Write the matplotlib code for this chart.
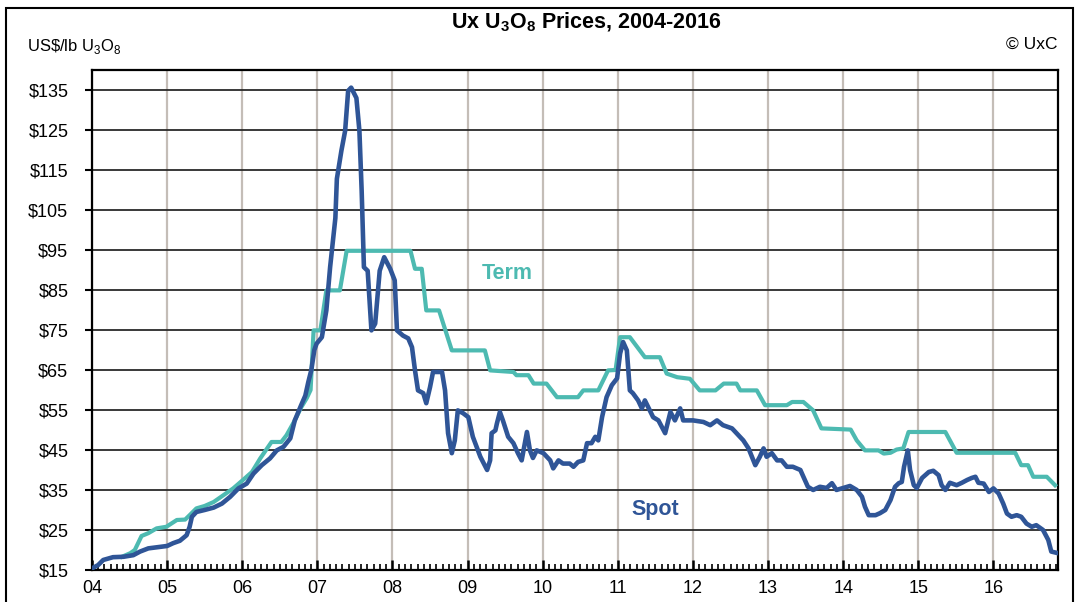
import matplotlib
matplotlib.use('Agg')
import matplotlib.pyplot as plt
from matplotlib.ticker import MultipleLocator, FixedLocator
from matplotlib.patches import Rectangle
import numpy as np

plt.rcParams['font.family'] = ['Liberation Sans', 'DejaVu Sans']
plt.rcParams['mathtext.fontset'] = 'custom'
plt.rcParams['mathtext.rm'] = 'Liberation Sans'
plt.rcParams['mathtext.bf'] = 'Liberation Sans:bold'

# spot price (decimal year, US$/lb)
spot_t = [2004.00, 2004.08, 2004.15, 2004.28, 2004.42, 2004.55, 2004.64, 2004.75, 2004.91, 2005.00,
          2005.08, 2005.17, 2005.26, 2005.30, 2005.33, 2005.39, 2005.50, 2005.62, 2005.73, 2005.84,
          2005.95, 2006.06, 2006.15, 2006.26, 2006.37, 2006.46, 2006.55, 2006.64, 2006.70, 2006.78,
          2006.84, 2006.88, 2006.92, 2006.96, 2006.99, 2007.06, 2007.12, 2007.17, 2007.24, 2007.26,
          2007.32, 2007.37, 2007.41, 2007.45, 2007.52, 2007.56, 2007.57, 2007.59, 2007.62, 2007.67,
          2007.72, 2007.77, 2007.83, 2007.89, 2007.97, 2008.03, 2008.06, 2008.14, 2008.21, 2008.26,
          2008.30, 2008.34, 2008.41, 2008.45, 2008.50, 2008.54, 2008.66, 2008.70, 2008.74, 2008.79,
          2008.83, 2008.87, 2008.94, 2009.01, 2009.07, 2009.12, 2009.17, 2009.26, 2009.30, 2009.32,
          2009.37, 2009.39, 2009.43, 2009.47, 2009.54, 2009.61, 2009.67, 2009.72, 2009.79, 2009.83,
          2009.87, 2009.92, 2010.01, 2010.10, 2010.14, 2010.21, 2010.27, 2010.36, 2010.41, 2010.47,
          2010.54, 2010.59, 2010.65, 2010.70, 2010.74, 2010.79, 2010.85, 2010.92, 2010.99, 2011.03,
          2011.07, 2011.12, 2011.16, 2011.20, 2011.27, 2011.32, 2011.36, 2011.47, 2011.54, 2011.63,
          2011.70, 2011.76, 2011.83, 2011.87, 2012.00, 2012.14, 2012.23, 2012.32, 2012.40, 2012.52,
          2012.58, 2012.67, 2012.74, 2012.83, 2012.89, 2012.94, 2012.98, 2013.05, 2013.12, 2013.18,
          2013.25, 2013.33, 2013.43, 2013.47, 2013.53, 2013.60, 2013.69, 2013.78, 2013.85, 2013.91,
          2014.05, 2014.09, 2014.18, 2014.25, 2014.29, 2014.34, 2014.43, 2014.49, 2014.56, 2014.63,
          2014.69, 2014.74, 2014.78, 2014.81, 2014.86, 2014.89, 2014.94, 2014.98, 2015.05, 2015.14,
          2015.20, 2015.27, 2015.31, 2015.36, 2015.42, 2015.51, 2015.58, 2015.65, 2015.71, 2015.76,
          2015.80, 2015.87, 2015.94, 2016.00, 2016.07, 2016.13, 2016.18, 2016.24, 2016.31, 2016.37,
          2016.44, 2016.51, 2016.57, 2016.66, 2016.73, 2016.77, 2016.86]
spot_p = [15.4, 16.2, 17.5, 18.2, 18.3, 18.7, 19.6, 20.4, 20.8, 21.0,
          21.7, 22.3, 23.7, 25.8, 28.3, 29.5, 30.0, 30.6, 31.6, 33.3,
          35.4, 36.6, 39.1, 41.2, 42.9, 44.9, 45.8, 47.9, 52.4, 56.0,
          58.6, 62.0, 65.0, 70.0, 71.6, 73.2, 79.9, 90.7, 103.0, 112.8,
          119.8, 124.8, 134.8, 135.6, 133.0, 124.8, 119.8, 109.8, 90.7, 89.8,
          74.9, 76.6, 89.8, 93.2, 90.3, 87.4, 74.9, 73.6, 72.9, 70.7,
          64.9, 59.9, 59.2, 56.7, 60.7, 64.5, 64.5, 59.9, 49.2, 44.2,
          47.4, 54.9, 54.2, 53.2, 48.3, 45.8, 43.3, 40.0, 42.4, 49.2,
          49.9, 51.6, 54.5, 52.4, 48.3, 46.7, 44.2, 42.4, 49.5, 44.9,
          43.0, 44.9, 44.2, 42.4, 40.4, 42.4, 41.6, 41.6, 40.8, 42.0,
          42.4, 46.7, 46.7, 48.3, 47.4, 53.2, 58.2, 61.2, 62.9, 69.1,
          72.0, 69.9, 59.9, 59.2, 57.4, 55.4, 57.4, 53.2, 52.4, 49.2,
          54.5, 52.4, 55.4, 52.4, 52.4, 52.0, 51.2, 52.4, 51.2, 50.4,
          49.2, 47.4, 45.4, 41.2, 43.3, 45.4, 43.3, 44.2, 42.4, 42.4,
          40.8, 40.8, 40.0, 38.3, 35.8, 35.0, 35.8, 35.5, 36.7, 35.0,
          35.8, 36.0, 35.0, 33.3, 30.8, 28.7, 28.7, 29.2, 30.0, 32.5,
          35.8, 36.7, 37.0, 40.8, 44.9, 40.0, 36.2, 35.5, 38.0, 39.5,
          39.8, 38.7, 36.2, 35.0, 36.8, 36.2, 36.8, 37.5, 38.0, 38.3,
          36.8, 36.6, 34.5, 35.4, 34.1, 31.6, 29.1, 28.3, 28.7, 28.3,
          26.6, 25.8, 26.2, 25.0, 22.5, 19.6, 19.2]

# long-term price
term_t = [2004.40, 2004.51, 2004.57, 2004.66, 2004.75, 2004.86, 2004.99, 2005.13, 2005.24, 2005.30,
          2005.39, 2005.50, 2005.62, 2005.75, 2005.88, 2006.01, 2006.13, 2006.24, 2006.39, 2006.52,
          2006.59, 2006.70, 2006.78, 2006.86, 2006.91, 2006.95, 2007.04, 2007.12, 2007.30, 2007.39,
          2008.24, 2008.30, 2008.39, 2008.45, 2008.62, 2008.79, 2009.23, 2009.30, 2009.61, 2009.65,
          2009.81, 2009.88, 2010.05, 2010.19, 2010.47, 2010.54, 2010.74, 2010.87, 2010.97, 2011.03,
          2011.16, 2011.36, 2011.56, 2011.65, 2011.79, 2011.96, 2012.09, 2012.30, 2012.41, 2012.58,
          2012.63, 2012.85, 2012.96, 2013.25, 2013.32, 2013.47, 2013.60, 2013.71, 2014.10, 2014.18,
          2014.29, 2014.47, 2014.54, 2014.63, 2014.71, 2014.80, 2014.87, 2015.36, 2015.51, 2016.29,
          2016.37, 2016.46, 2016.53, 2016.71, 2016.82]
term_p = [18.3, 19.2, 20.0, 23.5, 24.2, 25.4, 25.8, 27.5, 27.6, 28.7,
          30.4, 31.0, 32.0, 33.7, 35.4, 37.5, 39.5, 42.9, 47.0, 47.0,
          48.7, 52.4, 55.5, 58.0, 60.0, 74.9, 74.9, 84.9, 84.9, 94.8,
          94.8, 90.3, 90.3, 79.9, 79.9, 69.9, 69.9, 64.9, 64.5, 63.7,
          63.7, 61.6, 61.6, 58.2, 58.2, 59.9, 59.9, 64.9, 65.0, 73.2,
          73.2, 68.2, 68.2, 64.1, 63.2, 62.8, 59.9, 59.9, 61.6, 61.6,
          59.9, 59.9, 56.2, 56.2, 57.0, 57.0, 54.9, 50.4, 50.1, 47.4,
          44.9, 44.9, 44.1, 44.3, 45.1, 45.4, 49.5, 49.5, 44.3, 44.3,
          41.2, 41.2, 38.3, 38.3, 36.2]

years = list(range(2004, 2017))
year_labels = ['%02d' % (y % 100) for y in years]
price_ticks = list(range(15, 136, 10))
price_labels = ['$%d' % p for p in price_ticks]

spot_color = '#2f5597'
term_color = '#4dbab1'

fig = plt.figure(figsize=(10.77, 6.02), dpi=100)
ax = fig.add_axes([0.0854, 0.0532, 0.8970, 0.8305])

ax.plot(term_t, term_p, color=term_color, lw=3.0, solid_joinstyle='round', zorder=3)
ax.plot(spot_t, spot_p, color=spot_color, lw=3.3, solid_joinstyle='round', zorder=4)

ax.set_xlim(2004, 2016.86)
ax.set_ylim(15, 140)

ax.xaxis.set_major_locator(FixedLocator(years))
ax.xaxis.set_minor_locator(MultipleLocator(1 / 12))
ax.set_xticklabels(year_labels)
ax.set_yticks(price_ticks)
ax.set_yticklabels(price_labels)
ax.tick_params(axis='x', which='major', direction='in', length=7, width=1.8, labelsize=13, pad=7)
ax.tick_params(axis='x', which='minor', direction='in', length=4, width=1.2)
ax.tick_params(axis='y', which='major', direction='out', length=5, width=1.5, labelsize=13, pad=12)

ax.xaxis.grid(True, which='major', color='#c4bdb7', lw=1.6)
ax.yaxis.grid(True, which='major', color='#2a2a2a', lw=1.3)
ax.set_axisbelow(True)
for s in ax.spines.values():
    s.set_linewidth(1.6)
    s.set_color('black')

ax.text(2009.53, 89.1, 'Term', color=term_color, fontsize=15.5, fontweight='bold',
        ha='center', va='center', zorder=5)
ax.text(2011.50, 30.0, 'Spot', color=spot_color, fontsize=15.5, fontweight='bold',
        ha='center', va='center', zorder=5)

fig.text(0.544, 0.962, r'Ux U$_\mathbf{3}$O$_\mathbf{8}$ Prices, 2004-2016', fontsize=15.5,
         fontweight='bold', ha='center', va='center')
fig.text(0.025, 0.922, r'US\$/lb U$_3$O$_8$', fontsize=12, ha='left', va='center')
fig.text(0.982, 0.927, '© UxC', fontsize=12.5, ha='right', va='center')

fig.patches.append(Rectangle((0.006, -0.01), 0.99, 0.997, transform=fig.transFigure,
                             fill=False, edgecolor='black', lw=1.5))

fig.savefig('out.png', dpi=100)
